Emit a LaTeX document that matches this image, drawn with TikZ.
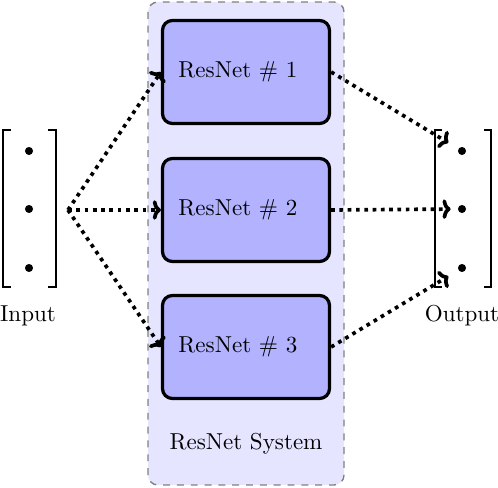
\documentclass[tikz,border=0pt]{standalone}
\usetikzlibrary{arrows.meta}
\begin{document}
\begin{tikzpicture}[x=0.434pt,y=-0.434pt,
  netbox/.style={draw=black,line width=1.4pt,fill=blue!30,rounded corners=4.3pt,
    minimum width=72.5pt,minimum height=44.7pt,inner sep=6.9pt,text width=58.6pt,align=left},
  sysbox/.style={draw=gray,line width=0.6pt,dashed,fill=blue!10,rounded corners=4.3pt},
  vecdot/.style={circle,fill=black,inner sep=0pt,minimum size=3.5pt},
  bracket/.style={line width=1pt},
  flow/.style={dotted,line width=1.6pt,-{To[length=3.5pt,width=8.5pt]}}]
\useasboundingbox (0,0) rectangle (498,488);
% system background
\path[sysbox] (148,2) rectangle (344,485);
\node at (246,444) {ResNet System};
% resnet boxes
\node[netbox] (r1) at (246,72) {ResNet \# 1};
\node[netbox] (r2) at (246,210) {ResNet \# 2};
\node[netbox] (r3) at (246,347) {ResNet \# 3};
% input vector
\draw[bracket] (11,130) -- (3,130) -- (3,287) -- (11,287);
\draw[bracket] (48,130) -- (56,130) -- (56,287) -- (48,287);
\node[vecdot] (i1) at (29,151) {};
\node[vecdot] (i2) at (29,209) {};
\node[vecdot] (i3) at (29,268) {};
\node (inlabel) at (28,316) {Input};
\coordinate (src) at (68,210);
% output vector
\draw[bracket] (442,130) -- (435,130) -- (435,287) -- (442,287);
\draw[bracket] (484,130) -- (491,130) -- (491,287) -- (484,287);
\node[vecdot] (o1) at (462,151) {};
\node[vecdot] (o2) at (462,209) {};
\node[vecdot] (o3) at (462,268) {};
\node (outlabel) at (462,316) {Output};
% arrows
\draw[flow] (src) -- (r1.west);
\draw[flow] (src) -- (r2.west);
\draw[flow] (src) -- (r3.west);
\draw[flow,shorten >=5pt] (r1.east) -- (o1);
\draw[flow,shorten >=3pt] (r2.east) -- (o2);
\draw[flow,shorten >=5pt] (r3.east) -- (o3);
\end{tikzpicture}
\end{document}
